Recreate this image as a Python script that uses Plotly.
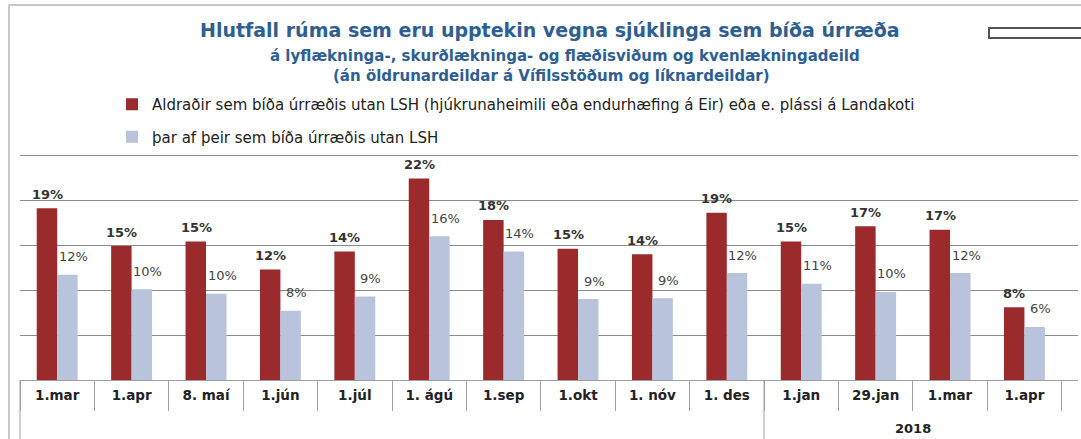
import plotly.graph_objects as go

categories = ["1.mar", "1.apr", "8. maí", "1.jún", "1.júl", "1. ágú", "1.sep",
              "1.okt", "1. nóv", "1. des", "1.jan", "29.jan", "1.mar ", "1.apr "]
tick_labels = ["1.mar", "1.apr", "8. maí", "1.jún", "1.júl", "1. ágú", "1.sep",
               "1.okt", "1. nóv", "1. des", "1.jan", "29.jan", "1.mar", "1.apr"]
aldradir = [0.191, 0.149, 0.154, 0.123, 0.143, 0.224, 0.178,
            0.146, 0.140, 0.186, 0.154, 0.171, 0.167, 0.081]
utan_lsh = [0.117, 0.101, 0.096, 0.077, 0.093, 0.160, 0.143,
            0.090, 0.091, 0.119, 0.107, 0.098, 0.119, 0.059]
series_names = [
    "Aldraðir sem bíða úrræðis utan LSH (hjúkrunaheimili eða endurhæfing á Eir) eða e. plássi á Landakoti",
    "þar af þeir sem bíða úrræðis utan LSH",
]
year_label = "2018"
year_start = "1.jan"
title_lines = [
    "Hlutfall rúma sem eru upptekin vegna sjúklinga sem bíða úrræða",
    "á lyflækninga-, skurðlækninga- og flæðisviðum og kvenlækningadeild",
    "(án öldrunardeildar á Vífilsstöðum og líknardeildar)",
]

RED = "#9b2a2c"
BLUE = "#b9c4dc"
TITLE_C = "#2f5e91"
FONT = "DejaVu Sans"

W, H = 1081, 439
L, R, T, B = 20, 3, 153, 59
PH = H - T - B
PW = W - L - R


def py(px):
    return (H - B - px) / PH


def pxx(px):
    return (px - L) / PW


fig = go.Figure()
fig.add_trace(go.Bar(x=categories, y=aldradir, name=series_names[0],
                     marker=dict(color=RED, line=dict(width=0)),
                     legendgroup="a"))
fig.add_trace(go.Bar(x=categories, y=utan_lsh, name=series_names[1],
                     marker=dict(color=BLUE, line=dict(width=0)),
                     legendgroup="b"))

annotations = []
for c, v in zip(categories, aldradir):
    annotations.append(dict(x=c, y=v, xref="x", yref="y", text=f"{v:.0%}",
                            showarrow=False, xshift=-10, yshift=14,
                            font=dict(family=FONT, size=13, color="#333333", weight="bold")))
for c, v in zip(categories, utan_lsh):
    annotations.append(dict(x=c, y=v, xref="x", yref="y", text=f"{v:.0%}",
                            showarrow=False, xshift=16, yshift=18,
                            font=dict(family=FONT, size=13, color="#444444")))

title_specs = [(19, 30, 550), (15, 56, 565), (15, 76, 551)]
for line, (sz, ypx, xpx) in zip(title_lines, title_specs):
    annotations.append(dict(x=pxx(xpx), y=py(ypx), xref="paper", yref="paper",
                            text=line, showarrow=False, xanchor="center", yanchor="middle",
                            font=dict(family=FONT, size=sz, color=TITLE_C, weight="bold")))

jan_idx = categories.index(year_start)
annotations.append(dict(x=(jan_idx + len(categories) - 1) / 2, y=py(428), xref="x", yref="paper",
                        text=year_label, showarrow=False, yanchor="middle",
                        font=dict(family=FONT, size=13, color="#222222", weight="bold")))

shapes = [
    dict(type="rect", xref="paper", yref="paper", x0=pxx(9), x1=pxx(1090), y0=py(445), y1=py(5),
         line=dict(color="#c8c8c8", width=2), layer="below"),
    dict(type="line", xref="paper", yref="paper", x0=0, x1=0, y0=0, y1=py(439),
         line=dict(color="#a0a0a0", width=1)),
    dict(type="line", xref="x", yref="paper", x0=jan_idx - 0.5, x1=jan_idx - 0.5, y0=0, y1=py(439),
         line=dict(color="#a0a0a0", width=1)),
    dict(type="rect", xref="paper", yref="paper", x0=pxx(989), x1=pxx(1095), y0=py(38), y1=py(28),
         line=dict(color="#555555", width=2), fillcolor="white"),
]

fig.update_layout(
    width=W, height=H,
    margin=dict(l=L, r=R, t=T, b=B, pad=0, autoexpand=False),
    paper_bgcolor="white", plot_bgcolor="white",
    barmode="group", bargap=0.45, bargroupgap=0,
    font=dict(family=FONT, color="#222222"),
    showlegend=True,
    legend=dict(x=pxx(112), y=py(88), xanchor="left", yanchor="top",
                traceorder="grouped", tracegroupgap=10,
                font=dict(family=FONT, size=15, color="#222222"),
                bgcolor="rgba(0,0,0,0)"),
    annotations=annotations,
    shapes=shapes,
)
fig.update_xaxes(type="category", categoryorder="array", categoryarray=categories,
                 tickvals=categories, ticktext=tick_labels,
                 range=[-0.5, len(categories) - 0.5 + 0.22],
                 tickson="boundaries", ticks="outside", ticklen=30, tickcolor="#a0a0a0",
                 ticklabelstandoff=3,
                 showline=True, linecolor="#a0a0a0", linewidth=1,
                 showgrid=False, zeroline=False,
                 tickfont=dict(family=FONT, size=13.5, color="#222222", weight="bold"))
fig.update_yaxes(range=[0, 0.2525], dtick=0.05, showticklabels=False,
                 showgrid=True, gridcolor="#8c8c8c", gridwidth=1, zeroline=False)

fig.write_html("out.html", config={"displayModeBar": False},
               post_script="document.body.style.margin='0';document.body.style.overflow='hidden';")
